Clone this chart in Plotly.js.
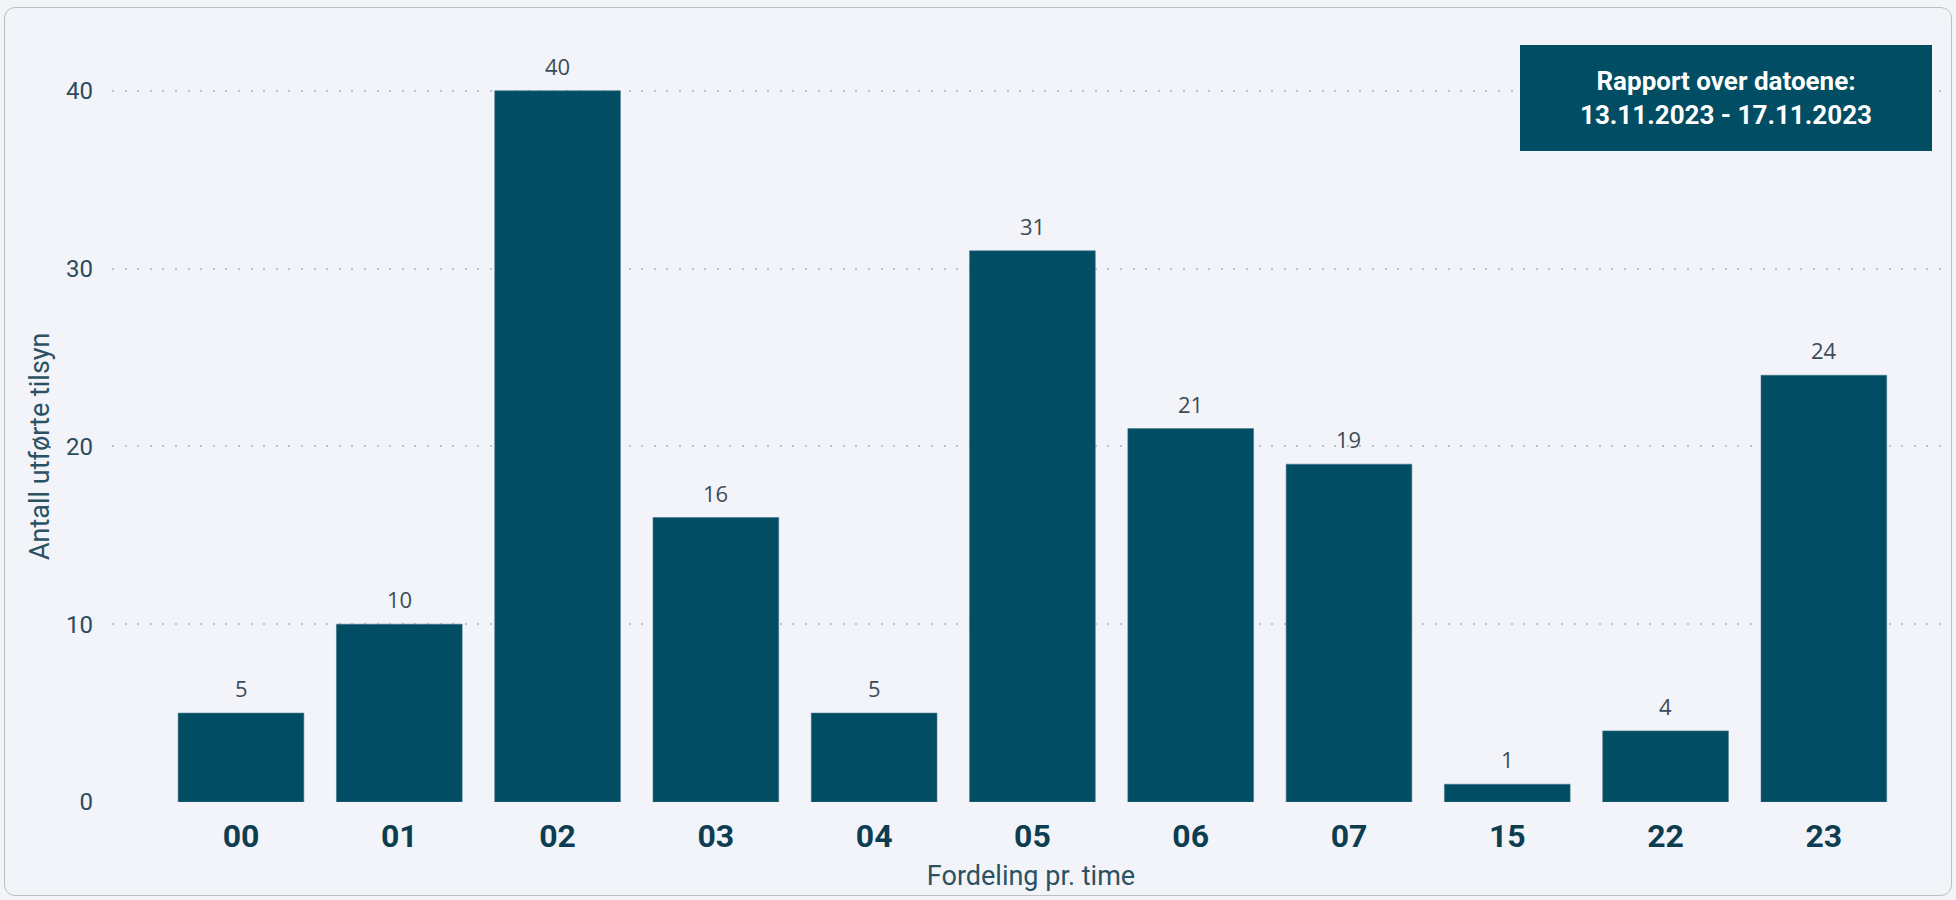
<!DOCTYPE html>
<html>
<head>
<meta charset="utf-8">
<script src="https://cdn.plot.ly/plotly-3.0.1.min.js"></script>
<style>
  html, body { margin: 0; padding: 0; background: #f3f4f9; }
  #card {
    position: absolute; left: 4px; top: 7px; width: 1948px; height: 889px;
    border: 1.5px solid #bdbfc2; border-radius: 11px; box-sizing: border-box;
  }
  #chart { position: absolute; left: 0; top: 0; width: 1956px; height: 900px; }
</style>
</head>
<body>
<div id="card"></div>
<div id="chart"></div>
<script>
// Inspections carried out, grouped by hour of day
const hours = ['00', '01', '02', '03', '04', '05', '06', '07', '15', '22', '23'];
const counts = [5, 10, 40, 16, 5, 31, 21, 19, 1, 4, 24];

const yTitle = 'Antall utførte tilsyn';
const xTitle = 'Fordeling pr. time';
const reportNote = 'Rapport over datoene:<br>13.11.2023 - 17.11.2023';

const barColor = '#014d63';

const trace = {
  type: 'bar',
  x: hours,
  y: counts,
  marker: { color: barColor, line: { color: '#3f7385', width: 0.6 } },
  hoverinfo: 'x+y'
};

// value labels above each bar (x given as category index, since the
// hour names are numeric strings)
const valueLabels = hours.map((h, i) => ({
  x: i,
  y: counts[i],
  xref: 'x',
  yref: 'y',
  text: String(counts[i]),
  showarrow: false,
  yshift: 25,
  font: { family: 'Open Sans, sans-serif', size: 22, color: '#3b4c57' }
}));

const noteBox = {
  xref: 'paper', yref: 'paper',
  x: (1520 - 112) / 1838, y: (802 - 45) / 772,
  xanchor: 'left', yanchor: 'top',
  text: '<b>' + reportNote + '</b>',
  showarrow: false,
  width: 412, height: 106,
  bgcolor: barColor,
  borderpad: 0, borderwidth: 0,
  align: 'center', valign: 'middle',
  font: { family: 'Roboto, sans-serif', size: 26, color: '#ffffff' }
};

// vertical axis caption, centred on the labelled band of the axis
const yCaption = {
  xref: 'paper', yref: 'paper',
  x: (40 - 112) / 1838, y: (802 - 446) / 772,
  xanchor: 'center', yanchor: 'middle',
  textangle: -90,
  text: yTitle,
  showarrow: false,
  font: { family: 'Roboto, sans-serif', size: 27, color: '#2a5263' }
};

const layout = {
  width: 1956,
  height: 900,
  margin: { l: 112, r: 6, t: 30, b: 98 },
  paper_bgcolor: 'rgba(0,0,0,0)',
  plot_bgcolor: 'rgba(0,0,0,0)',
  bargap: 0.206,
  showlegend: false,
  xaxis: {
    type: 'category',
    range: [-0.815, 10.797],
    showgrid: false,
    zeroline: false,
    showline: false,
    ticks: '',
    ticklabelstandoff: 12,
    tickfont: { family: 'Roboto, sans-serif', size: 32, color: '#0c3d51', weight: 'bold' },
    title: {
      text: xTitle,
      standoff: 12,
      font: { family: 'Roboto, sans-serif', size: 27, color: '#2a5263' }
    },
    automargin: false,
    fixedrange: true
  },
  yaxis: {
    range: [0, 43.42],
    tickvals: [0, 10, 20, 30, 40],
    showgrid: true,
    gridcolor: '#bfc2c6',
    gridwidth: 2,
    griddash: '2px,10.6px',
    zeroline: false,
    showline: false,
    ticks: '',
    ticklabelstandoff: 18,
    tickfont: { family: 'Roboto, sans-serif', size: 24, color: '#2c4b5c' },
    automargin: false,
    fixedrange: true
  },
  annotations: valueLabels.concat([noteBox, yCaption])
};

Plotly.newPlot('chart', [trace], layout, { displayModeBar: false, staticPlot: true });
</script>
</body>
</html>
